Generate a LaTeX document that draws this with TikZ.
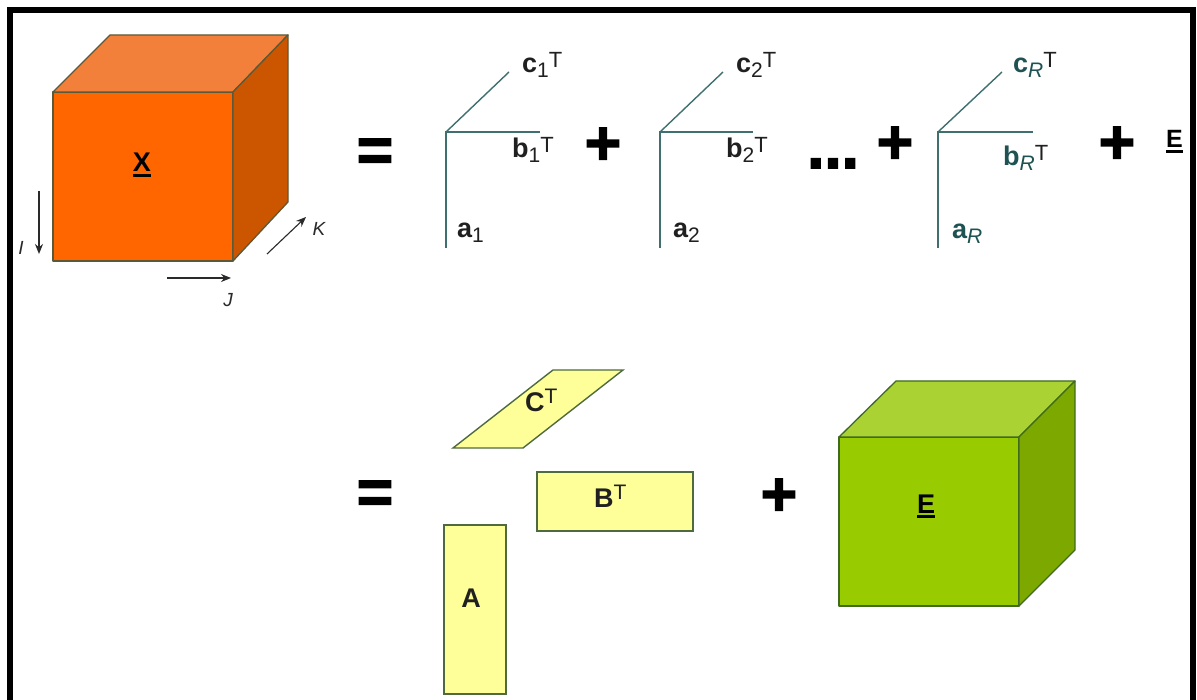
\documentclass[tikz,border=0pt]{standalone}
\usepackage{fontspec}
\setmainfont{Liberation Sans}
\newfontfamily\opfont{Liberation Sans}[UprightFont={* Bold}, UprightFeatures={FakeBold=2.5}]
\usetikzlibrary{arrows.meta}
\definecolor{xfront}{HTML}{FF6600}
\definecolor{xtop}{HTML}{F2803A}
\definecolor{xside}{HTML}{CC5500}
\definecolor{xedge}{HTML}{5A5A3A}
\definecolor{efront}{HTML}{99CC00}
\definecolor{etop}{HTML}{AAD232}
\definecolor{eside}{HTML}{7DA800}
\definecolor{eedge}{HTML}{3F6A1F}
\definecolor{matyellow}{HTML}{FFFF99}
\definecolor{matedge}{HTML}{4F6A3F}
\definecolor{teal1}{HTML}{3F6F6F}
\definecolor{tealtxt}{HTML}{1F5252}
\definecolor{lblgray}{HTML}{202020}
\definecolor{axisgray}{HTML}{2A2A2A}
\newcommand{\lsub}[1]{\raisebox{-5pt}{\fontsize{21}{21}\selectfont\mdseries #1}}
\newcommand{\lsup}[1]{\raisebox{5pt}{\fontsize{22}{22}\selectfont\mdseries #1}}
\newcommand{\usup}[1]{\raisebox{8pt}{\fontsize{21}{21}\selectfont\mdseries #1}}
\newcommand{\myul}[1]{\vtop{\hbox{#1}\kern2pt\hrule height 2.6pt}}
\begin{document}
\begin{tikzpicture}[x=1pt,y=-1pt,
  lbl/.style={font=\fontsize{27}{30}\selectfont\bfseries, text=lblgray, inner sep=0pt},
  opsym/.style={font=\fontsize{62}{62}\selectfont\opfont, text=black, inner sep=0pt},
  axis/.style={-{Stealth[length=10pt,width=8pt]}, line width=1.1pt, draw=axisgray},
  axlbl/.style={font=\fontsize{19}{19}\selectfont\itshape, text=axisgray, inner sep=0pt},
  factor/.style={draw=teal1, line width=1.4pt},
  mat/.style={fill=matyellow, draw=matedge, line width=1.4pt},
  xface/.style={draw=xedge, line width=1.3pt, line join=round},
  eface/.style={draw=eedge, line width=1.3pt, line join=round},
]
\useasboundingbox (0,0) rectangle (1197,700);
\fill[white] (0,0) rectangle (1197,700);

% ---- cube X ----
\filldraw[xface, fill=xfront] (53,92) rectangle (233,261);
\filldraw[xface, fill=xtop] (53,92) -- (110,35) -- (288,35) -- (233,92) -- cycle;
\filldraw[xface, fill=xside] (233,92) -- (288,35) -- (288,202) -- (233,261) -- cycle;
\node[lbl, anchor=base, text=black] (Xlab) at (142,172) {\myul{X}};

% axes
\coordinate (Itop) at (39,191); \coordinate (Ibot) at (39,254);
\coordinate (Jl) at (167,278); \coordinate (Jr) at (231,278);
\coordinate (Kl) at (267,254); \coordinate (Kr) at (306,217);
\draw[axis] (Itop) -- (Ibot);
\draw[axis] (Jl) -- (Jr);
\draw[axis] (Kl) -- (Kr);
\node[axlbl] (Ilab) at (21,248) {I};
\node[axlbl] (Jlab) at (228,300) {J};
\node[axlbl] (Klab) at (319,229) {K};

% ---- first equation ----
\node[opsym] (eq1) at (375,155) {=};

\coordinate (o1) at (446,132); \coordinate (a1e) at (446,248);
\coordinate (b1e) at (540,132); \coordinate (c1e) at (509,72);
\draw[factor] (a1e) -- (o1) -- (b1e);
\draw[factor] (o1) -- (c1e);
\node[lbl, anchor=base west] (c1) at (522,73) {c\lsub{1}\lsup{T}};
\node[lbl, anchor=base west] (b1) at (512,158) {b\lsub{1}\lsup{T}};
\node[lbl, anchor=base west] (a1) at (457,238) {a\lsub{1}};

\node[opsym] (p1) at (603,146) {+};

\coordinate (o2) at (660,132); \coordinate (a2e) at (660,248);
\coordinate (b2e) at (753,132); \coordinate (c2e) at (723,72);
\draw[factor] (a2e) -- (o2) -- (b2e);
\draw[factor] (o2) -- (c2e);
\node[lbl, anchor=base west] (c2) at (736,73) {c\lsub{2}\lsup{T}};
\node[lbl, anchor=base west] (b2) at (726,158) {b\lsub{2}\lsup{T}};
\node[lbl, anchor=base west] (a2) at (673,238) {a\lsub{2}};

\node[opsym, anchor=base] (dots) at (833,168) {...};
\node[opsym] (p2) at (895,145) {+};

\coordinate (oR) at (938,132); \coordinate (aRe) at (938,248);
\coordinate (bRe) at (1033,132); \coordinate (cRe) at (1002,72);
\draw[factor] (aRe) -- (oR) -- (bRe);
\draw[factor] (oR) -- (cRe);
\node[lbl, anchor=base west, text=tealtxt] (cR) at (1013,73) {c\lsub{\itshape R}\textcolor{lblgray}{\lsup{T}}};
\node[lbl, anchor=base west, text=tealtxt] (bR) at (1003,166) {b\lsub{\itshape R}\textcolor{lblgray}{\lsup{T}}};
\node[lbl, anchor=base west, text=tealtxt] (aR) at (952,239) {a\lsub{\itshape R}};

\node[opsym] (p3) at (1117,145) {+};
\node[lbl, anchor=base west, text=black, font=\fontsize{25}{28}\selectfont\bfseries] (Etop) at (1166,148) {\myul{E}};

% ---- second equation ----
\node[opsym] (eq2) at (375,497) {=};

\filldraw[mat] (453,448) -- (523,448) -- (623,370) -- (553,370) -- cycle;
\node[lbl, anchor=base west] (Clab) at (525,412) {C\usup{T}};

\filldraw[mat] (537,472) rectangle (693,531);
\node[lbl, anchor=base west] (Blab) at (594,507) {B\usup{T}};

\filldraw[mat] (444,525) rectangle (506,694);
\node[lbl, anchor=base] (Alab) at (471,607) {A};

\node[opsym] (p4) at (779,497) {+};

% ---- cube E ----
\filldraw[eface, fill=efront] (839,437) rectangle (1019,606);
\filldraw[eface, fill=etop] (839,437) -- (896,381) -- (1075,381) -- (1019,437) -- cycle;
\filldraw[eface, fill=eside] (1019,437) -- (1075,381) -- (1075,550) -- (1019,606) -- cycle;
\node[lbl, anchor=base, text=black] (Elab) at (926,513) {\myul{E}};

% ---- frame ----
\draw[line width=6pt, line join=miter] (10,700) -- (10,10) -- (1192.5,10) -- (1192.5,700);
\end{tikzpicture}
\end{document}
